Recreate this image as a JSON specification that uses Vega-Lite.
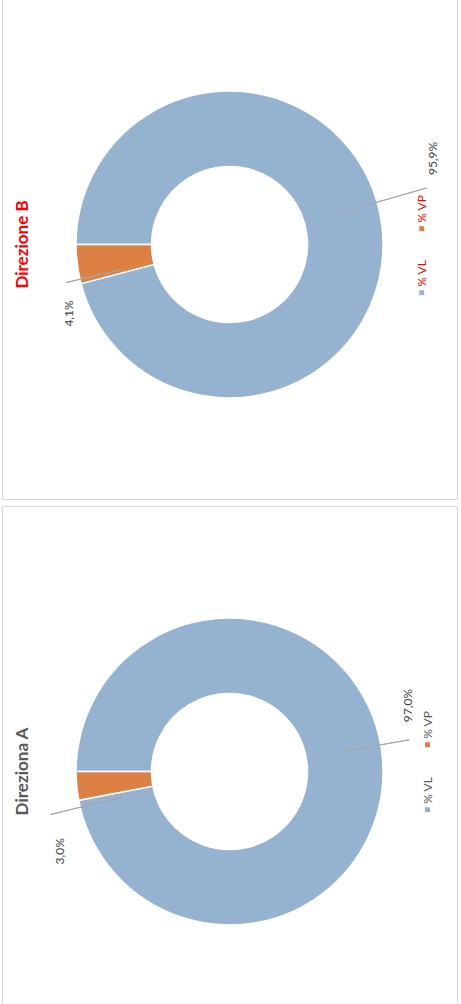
{
  "$schema": "https://vega.github.io/schema/vega-lite/v6.json",
  "padding": {"left": 1, "top": -11, "right": 0, "bottom": 0},
  "spacing": 5,
  "background": "white",
  "config": {
    "view": {"stroke": "#d9d9d9", "strokeWidth": 1},
    "style": {"view": {"stroke": "#d9d9d9", "strokeWidth": 1}, "cell": {"stroke": "#d9d9d9", "strokeWidth": 1}},
    "locale": {"number": {"decimal": ",", "thousands": ".", "grouping": [3], "currency": ["€", ""]}},
    "font": "Lato"
  },
  "datasets": {
    "shares": [
      {"dir": "Direzione B", "cat": "% VL", "share": 0.959},
      {"dir": "Direzione B", "cat": "% VP", "share": 0.041},
      {"dir": "Direziona A", "cat": "% VL", "share": 0.970},
      {"dir": "Direziona A", "cat": "% VP", "share": 0.030}
    ]
  },
  "vconcat": [
    {
      "width": 455,
      "height": 509,
      "view": {"stroke": "#d9d9d9", "strokeWidth": 1},
      "data": {"name": "shares"},
      "transform": [{"filter": "datum.dir === 'Direzione B'"}],
      "title": {"text": "Direzione B", "orient": "left", "anchor": "middle", "offset": -43, "baseline": "alphabetic", "color": "#ff0000", "fontSize": 17, "font": "Lato", "fontWeight": "bold"},
      "resolve": {"scale": {"theta": "independent"}},
      "encoding": {
        "color": {"field": "cat", "type": "nominal", "scale": {"domain": ["% VP", "% VL"], "range": ["#dd8044", "#95b3d0"]}, "legend": null}
      },
      "layer": [
        {"mark": {"type": "arc", "innerRadius": 78, "outerRadius": 153.5, "stroke": "white", "strokeWidth": 1.5},
         "encoding": {"theta": {"field": "share", "type": "quantitative", "stack": true, "scale": {"domain": [0, 1], "range": [4.712389, 10.995574]}}, "order": {"field": "cat", "type": "nominal", "sort": "ascending"}}},
        {"transform": [{"filter": "datum.cat === '% VL'"}], "mark": {"type": "arc", "radius": 205, "radius2": 114, "stroke": "#a6a6a6", "strokeWidth": 1, "fillOpacity": 0},
         "encoding": {"theta": {"field": "share", "type": "quantitative", "stack": true, "scale": {"domain": [0, 1], "range": [7.5747, 7.5747]}}}},
        {"transform": [{"filter": "datum.cat === '% VP'"}], "mark": {"type": "arc", "radius": 168, "radius2": 112, "stroke": "#a6a6a6", "strokeWidth": 1, "fillOpacity": 0},
         "encoding": {"theta": {"field": "share", "type": "quantitative", "stack": true, "scale": {"domain": [0, 1], "range": [4.4837, 4.4837]}}}},
        {"transform": [{"filter": "datum.cat === '% VL'"}], "mark": {"type": "text", "radius": 220.6, "thetaOffset": -0.2718, "angle": 270, "fontSize": 12, "font": "Lato"},
         "encoding": {"theta": {"field": "share", "type": "quantitative", "stack": true, "scale": {"domain": [0, 1], "range": [4.712389, 10.995574]}}, "text": {"field": "share", "type": "quantitative", "format": ".1%"}, "color": {"value": "#404040"}}},
        {"transform": [{"filter": "datum.cat === '% VP'"}], "mark": {"type": "text", "radius": 174.4, "thetaOffset": -0.5355, "angle": 270, "fontSize": 12, "font": "Lato"},
         "encoding": {"theta": {"field": "share", "type": "quantitative", "stack": true, "scale": {"domain": [0, 1], "range": [4.712389, 10.995574]}}, "text": {"field": "share", "type": "quantitative", "format": ".1%"}, "color": {"value": "#404040"}}},
        {"mark": {"type": "square", "size": 25, "opacity": 1},
         "encoding": {
           "x": {"field": "cat", "type": "nominal", "scale": {"type": "point", "domain": ["% VP", "% VL"], "range": [419.7, 419.7], "padding": 0}, "axis": null},
           "y": {"field": "cat", "type": "nominal", "scale": {"type": "point", "domain": ["% VP", "% VL"], "range": [238.7, 302.7], "padding": 0}, "axis": null}}},
        {"mark": {"type": "text", "angle": 270, "align": "left", "baseline": "middle", "dx": 6, "fontSize": 12, "font": "Lato"},
         "encoding": {
           "x": {"field": "cat", "type": "nominal", "scale": {"type": "point", "domain": ["% VP", "% VL"], "range": [419.7, 419.7], "padding": 0}, "axis": null},
           "y": {"field": "cat", "type": "nominal", "scale": {"type": "point", "domain": ["% VP", "% VL"], "range": [238.7, 302.7], "padding": 0}, "axis": null},
           "text": {"field": "cat", "type": "nominal"},
           "color": {"value": "#ff0000"}}}
      ]
    },
    {
      "width": 455,
      "height": 531,
      "view": {"stroke": "#d9d9d9", "strokeWidth": 1},
      "data": {"name": "shares"},
      "transform": [{"filter": "datum.dir === 'Direziona A'"}],
      "title": {"text": "Direziona A", "orient": "left", "anchor": "middle", "offset": -43, "baseline": "alphabetic", "color": "#595959", "fontSize": 17, "font": "Lato", "fontWeight": "bold"},
      "resolve": {"scale": {"theta": "independent"}},
      "encoding": {
        "color": {"field": "cat", "type": "nominal", "scale": {"domain": ["% VP", "% VL"], "range": ["#dd8044", "#95b3d0"]}, "legend": null}
      },
      "layer": [
        {"mark": {"type": "arc", "innerRadius": 78, "outerRadius": 153.5, "stroke": "white", "strokeWidth": 1.5},
         "encoding": {"theta": {"field": "share", "type": "quantitative", "stack": true, "scale": {"domain": [0, 1], "range": [4.712389, 10.995574]}}, "order": {"field": "cat", "type": "nominal", "sort": "ascending"}}},
        {"transform": [{"filter": "datum.cat === '% VL'"}], "mark": {"type": "arc", "radius": 182.5, "radius2": 114.5, "stroke": "#a6a6a6", "strokeWidth": 1, "fillOpacity": 0},
         "encoding": {"theta": {"field": "share", "type": "quantitative", "stack": true, "scale": {"domain": [0, 1], "range": [7.6794, 7.6794]}}}},
        {"transform": [{"filter": "datum.cat === '% VP'"}], "mark": {"type": "arc", "radius": 184, "radius2": 110, "stroke": "#a6a6a6", "strokeWidth": 1, "fillOpacity": 0},
         "encoding": {"theta": {"field": "share", "type": "quantitative", "stack": true, "scale": {"domain": [0, 1], "range": [4.4768, 4.4768]}}}},
        {"transform": [{"filter": "datum.cat === '% VL'"}], "mark": {"type": "text", "radius": 190, "thetaOffset": -0.2600, "angle": 270, "fontSize": 12, "font": "Lato"},
         "encoding": {"theta": {"field": "share", "type": "quantitative", "stack": true, "scale": {"domain": [0, 1], "range": [4.712389, 10.995574]}}, "text": {"field": "share", "type": "quantitative", "format": ".1%"}, "color": {"value": "#404040"}}},
        {"transform": [{"filter": "datum.cat === '% VP'"}], "mark": {"type": "text", "radius": 187.6, "thetaOffset": -0.5340, "angle": 270, "fontSize": 12, "font": "Lato"},
         "encoding": {"theta": {"field": "share", "type": "quantitative", "stack": true, "scale": {"domain": [0, 1], "range": [4.712389, 10.995574]}}, "text": {"field": "share", "type": "quantitative", "format": ".1%"}, "color": {"value": "#404040"}}},
        {"mark": {"type": "square", "size": 25, "opacity": 1},
         "encoding": {
           "x": {"field": "cat", "type": "nominal", "scale": {"type": "point", "domain": ["% VP", "% VL"], "range": [425.5, 425.5], "padding": 0}, "axis": null},
           "y": {"field": "cat", "type": "nominal", "scale": {"type": "point", "domain": ["% VP", "% VL"], "range": [238.7, 303.7], "padding": 0}, "axis": null}}},
        {"mark": {"type": "text", "angle": 270, "align": "left", "baseline": "middle", "dx": 6, "fontSize": 12, "font": "Lato"},
         "encoding": {
           "x": {"field": "cat", "type": "nominal", "scale": {"type": "point", "domain": ["% VP", "% VL"], "range": [425.5, 425.5], "padding": 0}, "axis": null},
           "y": {"field": "cat", "type": "nominal", "scale": {"type": "point", "domain": ["% VP", "% VL"], "range": [238.7, 303.7], "padding": 0}, "axis": null},
           "text": {"field": "cat", "type": "nominal"},
           "color": {"value": "#595959"}}}
      ]
    }
  ]
}
